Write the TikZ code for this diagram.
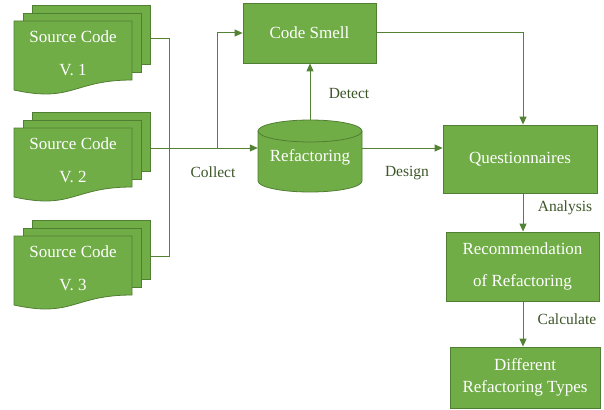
\documentclass[tikz,border=0pt]{standalone}
\usepackage{fontspec}
\setmainfont{Liberation Serif}
\usetikzlibrary{arrows.meta}
\definecolor{gfill}{HTML}{70AD47}
\definecolor{gline}{HTML}{507E32}
\definecolor{gconn}{HTML}{548235}
\definecolor{gtext}{HTML}{3B5528}
\begin{document}
\begin{tikzpicture}[x=1pt,y=-1pt,
  sheet/.style={fill=gfill,draw=gline,line width=0.8pt},
  box/.style={fill=gfill,draw=gline,line width=0.8pt,text=white,align=center,
    font=\fontsize{17}{22}\selectfont,inner sep=0pt},
  wtext/.style={text=white,align=center,font=\fontsize{17}{22}\selectfont,inner sep=0pt},
  lbl/.style={text=gtext,font=\fontsize{15.5}{18}\selectfont,inner sep=0pt},
  conn/.style={draw=gconn,line width=1pt},
  arr/.style={conn,-{Triangle[length=8pt,width=7pt]}}]
\useasboundingbox (0,0) rectangle (604,409);

% document stacks
\foreach \dy/\v in {0/1,107/2,215/3}{
  \begin{scope}[yshift=-\dy pt]
  \path[sheet] (32,5) rectangle (150,64);
  \path[sheet] (23,13) rectangle (141,72);
  \path[sheet] (14,21) -- (132,21) -- (132,80) .. controls (73,80) and (73,103) .. (14,90) -- cycle;
  \end{scope}
}
\node[wtext] (s1) at (73,53.5) {Source Code\\[11pt]V. 1};
\node[wtext] (s2) at (73,160.5) {Source Code\\[11pt]V. 2};
\node[wtext] (s3) at (73,268.5) {Source Code\\[11pt]V. 3};

\coordinate (o1) at (150,39);
\coordinate (o2) at (150,148);
\coordinate (o3) at (150,256);
\coordinate (j) at (169,148);
\coordinate (jb) at (217,148);
\coordinate (ax) at (523,0);

% cylinder
\path[sheet] (258,131) -- (258,181) arc[start angle=180,end angle=0,x radius=52,y radius=11]
  -- (362,131) arc[start angle=0,end angle=-180,x radius=52,y radius=11] -- cycle;
\draw[gline,line width=0.8pt] (258,131) arc[start angle=180,end angle=0,x radius=52,y radius=11];
\node[wtext,minimum width=104pt,minimum height=72pt] (ref) at (310,157) {Refactoring};
\coordinate (rt) at (310,120);

% boxes
\node[box,minimum width=133pt,minimum height=60pt] (cs) at (309.5,33) {Code Smell};
\node[box,minimum width=154pt,minimum height=68pt] (q) at (520,159) {Questionnaires};
\node[box,minimum width=153pt,minimum height=69pt] (rec) at (522.5,266.5) {Recommendation\\[10pt]of Refactoring};
\node[box,minimum width=150pt,minimum height=61pt] (dif) at (525,377.5) {Different\\Refactoring Types};

% connectors
\draw[conn] (o1) -| (j);
\draw[conn] (o3) -| (j);
\draw[arr] (o2) -- (o2 -| ref.west);
\draw[arr] (jb) |- (cs.west);
\draw[arr] (rt) -- (rt |- cs.south);
\draw[arr] (o2 -| ref.east) -- (o2 -| q.west);
\draw[arr] (cs.east) -| (q.north -| ax);
\draw[arr] (q.south -| ax) -- (rec.north -| ax);
\draw[arr] (rec.south -| ax) -- (dif.north -| ax);

% labels
\node[lbl] (lc) at (213,172) {Collect};
\node[lbl] (ld) at (349,94) {Detect};
\node[lbl] (lg) at (407,173) {Design};
\node[lbl] (la) at (565,208) {Analysis};
\node[lbl] (lk) at (567,319) {Calculate};
\end{tikzpicture}
\end{document}
